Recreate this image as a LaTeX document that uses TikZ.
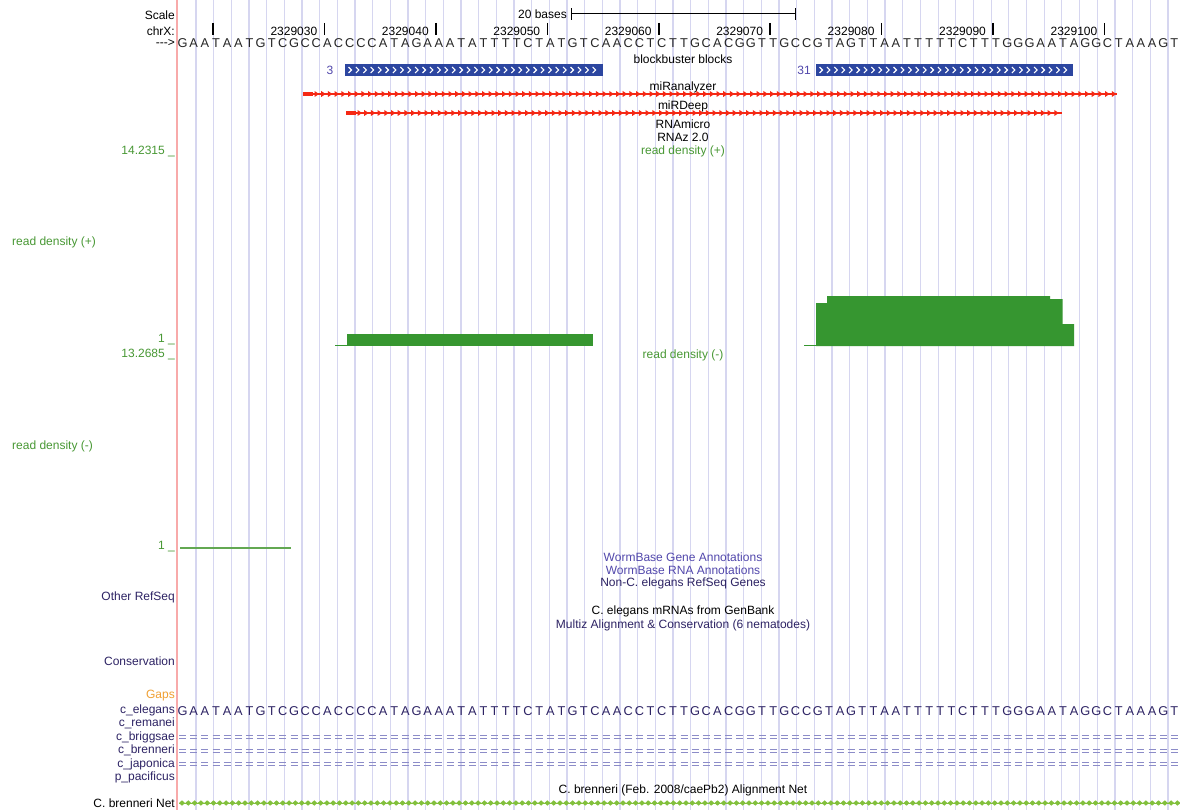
\documentclass[tikz,border=0pt]{standalone}
\usepackage{fontspec}
\setmainfont{Liberation Sans}

\definecolor{guidec}{RGB}{214,214,240}
\definecolor{pinkc}{RGB}{248,170,170}
\definecolor{dgreen}{RGB}{72,152,52}
\definecolor{barg}{RGB}{54,150,48}
\definecolor{navy}{RGB}{45,35,100}
\definecolor{wbblue}{RGB}{82,72,172}
\definecolor{blockblue}{RGB}{44,70,160}
\definecolor{mired}{RGB}{245,40,20}
\definecolor{gapor}{RGB}{240,160,50}
\definecolor{dashc}{RGB}{140,140,200}
\definecolor{netg}{RGB}{130,192,60}

\newcommand{\bw}{11.144}
\newcommand{\seqlist}{G,A,A,T,A,A,T,G,T,C,G,C,C,A,C,C,C,C,A,T,A,G,A,A,A,T,A,T,T,T,T,C,T,A,T,G,T,C,A,A,C,C,T,C,T,T,G,C,A,C,G,G,T,T,G,C,C,G,T,A,G,T,T,A,A,T,T,T,T,T,C,T,T,T,G,G,G,A,A,T,A,G,G,C,T,A,A,A,G,T}

\tikzset{
    lbl/.style={font=\fontsize{12}{13}\selectfont, inner sep=0pt},
    side/.style={lbl, anchor=east},
    trk/.style={lbl},
    base/.style={font=\fontsize{12.8}{13}\selectfont, inner sep=0pt},
    guide/.style={guidec, line width=1.3pt},
}

\begin{document}
\begin{tikzpicture}[x=1pt,y=-1pt]
    \useasboundingbox[fill=white] (0,0) rectangle (1180,810);

    % guide lines
    \foreach \k in {0,...,55}{
        \draw[guide] ({196+17.67*\k},0) -- ({196+17.67*\k},810);
    }
    \draw[pinkc, line width=1.3pt] (177,0) -- (177,810);

    % ruler
    \node[side] (scale) at (175,15) {Scale};
    \node[lbl, anchor=east] (bases) at (567,14) {20 bases};
    \coordinate (barl) at (571,14);
    \coordinate (barr) at (795,14);
    \draw[line width=1pt] (barl) -- (barr);
    \draw[line width=1pt] ([yshift=-6pt]barl) -- ([yshift=6pt]barl);
    \draw[line width=1pt] ([yshift=-6pt]barr) -- ([yshift=6pt]barr);

    \node[side] (chr) at (175,31) {chrX:};
    \foreach \k in {0,...,8}{
        \draw[line width=1.6pt] ({213+111.44*\k},23) -- ({213+111.44*\k},35);
    }
    \foreach \k/\pos in {1/2329030,2/2329040,3/2329050,4/2329060,5/2329070,6/2329080,7/2329090,8/2329100}{
        \node[lbl, anchor=east] (tick\k) at ({206+111.44*\k},31) {\pos};
    }

    \node[side] (dir) at (175,43) {-{}-{}-{}>};
    \foreach \b [count=\i] in \seqlist{
        \node[base, text=black!85] (s\i) at ({177+\bw*(\i-0.5)},43.5) {\b};
    }

    % blockbuster blocks
    \node[trk] (bb) at (683,59) {blockbuster blocks};
    \node[lbl, text=wbblue] (bbone) at (330,70) {3};
    \node[lbl, text=wbblue] (bbtwo) at (804,70) {31};
    \fill[blockblue] (345,64) rectangle (603,76);
    \fill[blockblue] (816,64) rectangle (1073,76);
    \foreach \x in {350,357.4,...,598}{
        \draw[white, line width=1.1pt] (\x-1.5,67) -- (\x+1.5,70) -- (\x-1.5,73);
    }
    \foreach \x in {821,828.4,...,1069}{
        \draw[white, line width=1.1pt] (\x-1.5,67) -- (\x+1.5,70) -- (\x-1.5,73);
    }

    % miRanalyzer and miRDeep
    \node[trk] (mira) at (683,87) {miRanalyzer};
    \draw[mired, line width=2.4pt] (303,94) -- (1117,94);
    \draw[mired, line width=4pt] (303,94) -- (313,94);
    \foreach \x in {317,323.7,...,1115}{
        \fill[mired] (\x-2.5,91) -- (\x+2,94) -- (\x-2.5,97) -- cycle;
    }
    \node[trk] (mird) at (683,106) {miRDeep};
    \draw[mired, line width=2.4pt] (346,113) -- (1062,113);
    \draw[mired, line width=4pt] (346,113) -- (356,113);
    \foreach \x in {360,366.7,...,1060}{
        \fill[mired] (\x-2.5,110) -- (\x+2,113) -- (\x-2.5,116) -- cycle;
    }

    \node[trk] (rnam) at (683,124) {RNAmicro};
    \node[trk] (rnaz) at (683,137) {RNAz 2.0};

    % read density (+)
    \node[trk, text=dgreen] (rdp) at (683,151) {read density (+)};
    \node[side, text=dgreen] (maxp) at (175,152) {14.2315 \_};
    \node[lbl, anchor=west, text=dgreen] (rdpl) at (12,242) {read density (+)};
    \node[side, text=dgreen] (onep) at (175,340) {1 \_};

    \draw[barg, line width=1pt] (335,345.5) -- (347,345.5);
    \fill[barg] (347,346) rectangle (592.5,334);
    \draw[barg, line width=1pt] (804,345.5) -- (816,345.5);
    \fill[barg] (816,346) -- (816,303) -- (827,303) -- (827,296) -- (1050,296)
        -- (1050,299) -- (1062.5,299) -- (1062.5,324) -- (1074,324) -- (1074,346) -- cycle;

    % read density (-)
    \node[side, text=dgreen] (maxm) at (175,355) {13.2685 \_};
    \node[trk, text=dgreen] (rdm) at (683,355) {read density (-)};
    \node[lbl, anchor=west, text=dgreen] (rdml) at (12,446) {read density (-)};
    \node[side, text=dgreen] (onem) at (175,547) {1 \_};
    \draw[dgreen!85, line width=1.2pt] (180,548) -- (291,548);

    % annotation tracks
    \node[trk, text=wbblue] (wbg) at (683,557) {WormBase Gene Annotations};
    \node[trk, text=wbblue] (wbr) at (683,570) {WormBase RNA Annotations};
    \node[trk, text=navy] (nonc) at (683,583) {Non-C. elegans RefSeq Genes};
    \node[side, text=navy] (oref) at (175,597) {Other RefSeq};
    \node[trk] (mrna) at (683,611) {C. elegans mRNAs from GenBank};
    \node[trk, text=navy] (multiz) at (683,625) {Multiz Alignment \& Conservation (6 nematodes)};
    \node[side, text=navy] (cons) at (175,661) {Conservation};

    % alignment rows
    \node[side, text=gapor] (gaps) at (175,696) {Gaps};
    \node[side, text=navy] (cel) at (175,710) {c\_elegans};
    \node[side, text=navy] (crem) at (175,723) {c\_remanei};
    \node[side, text=navy] (cbri) at (175,737) {c\_briggsae};
    \node[side, text=navy] (cbre) at (175,750) {c\_brenneri};
    \node[side, text=navy] (cjap) at (175,764) {c\_japonica};
    \node[side, text=navy] (ppac) at (175,777) {p\_pacificus};
    \foreach \b [count=\i] in \seqlist{
        \node[base, text=navy] (e\i) at ({177+\bw*(\i-0.5)},711) {\b};
    }
    \foreach \y in {737,750.5,764}{
        \foreach \i in {1,...,90}{
            \draw[dashc, line width=0.8pt] ({177+\bw*(\i-0.5)-3.5},\y-1.6) -- ({177+\bw*(\i-0.5)+3.5},\y-1.6);
            \draw[dashc, line width=0.8pt] ({177+\bw*(\i-0.5)-3.5},\y+1.6) -- ({177+\bw*(\i-0.5)+3.5},\y+1.6);
        }
    }

    % net
    \node[trk] (nett) at (683,790) {C. brenneri (Feb. 2008/caePb2) Alignment Net};
    \node[side] (net) at (175,803) {C. brenneri Net};
    \draw[netg, line width=1pt] (179,803) -- (1180,803);
    \foreach \k in {0,...,158}{
        \fill[netg] ({182+6.3*\k-3},803) -- ({182+6.3*\k},800.3) -- ({182+6.3*\k+3},803) -- ({182+6.3*\k},805.7) -- cycle;
    }

\end{tikzpicture}
\end{document}
